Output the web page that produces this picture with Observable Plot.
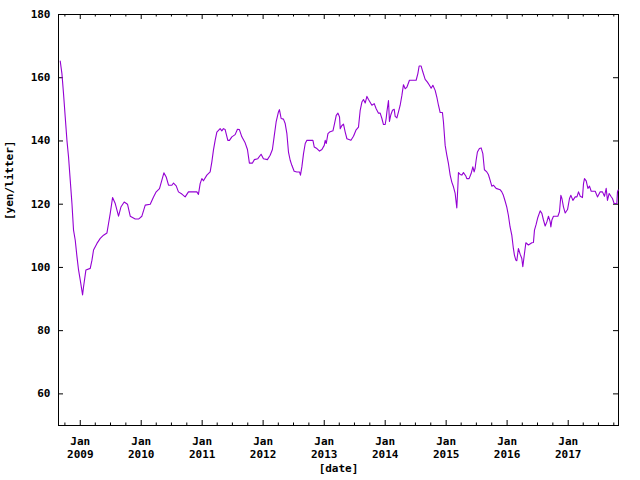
<!DOCTYPE html>
<html>
<head>
<meta charset="utf-8">
<script src="https://cdn.jsdelivr.net/npm/d3@7"></script>
<script src="https://cdn.jsdelivr.net/npm/@observablehq/plot@0.6"></script>
<style>
  html, body { margin: 0; padding: 0; background: #fff; }
</style>
</head>
<body>
<div id="chart"></div>
<script>
// decimal-year positions of the sampled points
const years = [
  2008.672, 2008.700, 2008.726, 2008.754, 2008.782, 2008.808, 2008.836, 2008.864, 2008.890, 2008.918,
  2008.946, 2008.972, 2009.000, 2009.038, 2009.054, 2009.093, 2009.164, 2009.192, 2009.218, 2009.274,
  2009.328, 2009.382, 2009.438, 2009.464, 2009.492, 2009.530, 2009.574, 2009.602, 2009.628, 2009.667,
  2009.721, 2009.775, 2009.820, 2009.902, 2009.956, 2010.011, 2010.066, 2010.148, 2010.202, 2010.246,
  2010.300, 2010.339, 2010.372, 2010.410, 2010.448, 2010.503, 2010.530, 2010.574, 2010.611, 2010.667,
  2010.721, 2010.775, 2010.913, 2010.939, 2010.967, 2010.995, 2011.021, 2011.077, 2011.131, 2011.159,
  2011.185, 2011.213, 2011.241, 2011.295, 2011.323, 2011.349, 2011.377, 2011.421, 2011.448, 2011.487,
  2011.541, 2011.579, 2011.611, 2011.651, 2011.705, 2011.743, 2011.775, 2011.825, 2011.857, 2011.913,
  2011.967, 2012.005, 2012.070, 2012.115, 2012.152, 2012.180, 2012.213, 2012.251, 2012.267, 2012.295,
  2012.333, 2012.361, 2012.389, 2012.415, 2012.443, 2012.470, 2012.508, 2012.552, 2012.595, 2012.611,
  2012.634, 2012.661, 2012.689, 2012.716, 2012.815, 2012.836, 2012.880, 2012.923, 2012.962, 2013.000,
  2013.016, 2013.033, 2013.061, 2013.087, 2013.143, 2013.169, 2013.197, 2013.225, 2013.251, 2013.262,
  2013.290, 2013.316, 2013.344, 2013.372, 2013.438, 2013.480, 2013.520, 2013.562, 2013.590, 2013.618,
  2013.644, 2013.672, 2013.700, 2013.726, 2013.782, 2013.820, 2013.852, 2013.890, 2013.918, 2013.946,
  2013.972, 2014.000, 2014.016, 2014.028, 2014.054, 2014.070, 2014.093, 2014.120, 2014.148, 2014.164,
  2014.192, 2014.218, 2014.246, 2014.274, 2014.300, 2014.328, 2014.356, 2014.398, 2014.508, 2014.536,
  2014.557, 2014.590, 2014.618, 2014.656, 2014.693, 2014.726, 2014.754, 2014.782, 2014.820, 2014.847,
  2014.874, 2014.902, 2014.939, 2014.956, 2014.984, 2015.011, 2015.038, 2015.066, 2015.093, 2015.120,
  2015.148, 2015.175, 2015.192, 2015.202, 2015.230, 2015.257, 2015.284, 2015.323, 2015.339, 2015.377,
  2015.410, 2015.438, 2015.459, 2015.475, 2015.492, 2015.513, 2015.546, 2015.574, 2015.602, 2015.628,
  2015.667, 2015.693, 2015.721, 2015.749, 2015.775, 2015.820, 2015.885, 2015.913, 2015.939, 2015.967,
  2015.995, 2016.021, 2016.049, 2016.077, 2016.103, 2016.120, 2016.143, 2016.159, 2016.185, 2016.213,
  2016.241, 2016.257, 2016.279, 2016.307, 2016.349, 2016.405, 2016.431, 2016.448, 2016.475, 2016.503,
  2016.541, 2016.569, 2016.595, 2016.623, 2016.651, 2016.677, 2016.705, 2016.716, 2016.733, 2016.759,
  2016.831, 2016.857, 2016.880, 2016.897, 2016.923, 2016.951, 2016.989, 2017.021, 2017.044, 2017.077,
  2017.115, 2017.143, 2017.169, 2017.197, 2017.234, 2017.251, 2017.267, 2017.295, 2017.323, 2017.349,
  2017.377, 2017.443, 2017.480, 2017.525, 2017.562, 2017.595, 2017.623, 2017.644, 2017.672, 2017.700,
  2017.726, 2017.754, 2017.798, 2017.808, 2017.820
];
// price, yen per litre
const prices = [
  165.3, 161.3, 155.0, 147.6, 140.2, 135.0, 127.6, 120.2, 111.8, 108.6,
  103.4, 99.2, 96.0, 91.3, 93.9, 99.2, 99.7, 102.3, 105.5, 107.6,
  109.2, 110.2, 110.9, 113.9, 117.1, 122.1, 120.2, 118.1, 116.2, 119.1,
  120.7, 120.0, 116.2, 115.3, 115.3, 116.2, 119.7, 120.0, 122.3, 123.9,
  124.9, 127.6, 129.9, 128.6, 126.0, 126.0, 126.7, 125.8, 123.9, 123.2,
  122.3, 123.9, 123.9, 123.1, 126.5, 128.1, 127.4, 129.2, 130.2, 133.4,
  137.1, 140.2, 142.8, 143.9, 143.2, 143.9, 143.6, 140.2, 140.2, 141.3,
  142.0, 143.7, 143.6, 141.3, 139.4, 137.3, 133.0, 133.0, 134.1, 134.4,
  135.8, 134.4, 134.1, 135.5, 137.3, 141.3, 146.0, 149.2, 149.9, 147.1,
  146.9, 145.5, 142.3, 136.5, 133.9, 132.3, 130.4, 130.2, 130.2, 129.2,
  131.8, 136.0, 139.2, 140.2, 140.2, 138.1, 137.6, 136.8, 137.3, 138.6,
  140.2, 139.2, 142.3, 142.8, 143.2, 145.5, 148.1, 148.8, 147.6, 143.9,
  144.9, 145.3, 142.8, 140.7, 140.2, 141.5, 143.4, 144.4, 149.7, 152.3,
  153.1, 152.0, 154.1, 153.1, 151.3, 151.8, 150.2, 148.8, 148.8, 147.1,
  145.2, 145.2, 147.1, 149.2, 152.8, 146.2, 148.3, 149.7, 150.0, 147.8,
  147.3, 149.2, 151.3, 154.4, 157.8, 156.5, 157.0, 159.2, 159.2, 161.3,
  163.7, 163.7, 161.8, 159.5, 158.6, 157.6, 156.7, 157.6, 156.0, 153.9,
  151.3, 149.0, 149.0, 146.0, 138.6, 135.5, 132.8, 129.2, 127.0, 125.5,
  123.4, 118.8, 125.5, 130.0, 129.4, 129.2, 130.0, 128.9, 128.1, 128.1,
  129.7, 131.8, 130.2, 131.3, 133.9, 136.5, 137.6, 137.8, 136.0, 130.9,
  130.2, 129.4, 127.6, 125.7, 126.0, 125.0, 124.6, 123.9, 122.8, 121.0,
  119.1, 116.5, 112.8, 110.2, 106.0, 103.9, 102.3, 102.1, 106.0, 104.2,
  102.8, 100.2, 103.6, 107.8, 107.1, 107.8, 107.9, 111.8, 113.6, 115.8,
  117.9, 117.1, 115.0, 113.1, 114.4, 116.2, 114.4, 112.8, 115.0, 116.2,
  116.2, 117.6, 122.8, 121.8, 119.1, 117.2, 118.3, 121.8, 122.8, 121.2,
  122.3, 122.3, 123.9, 122.5, 122.1, 126.5, 128.1, 127.4, 125.0, 125.7,
  124.1, 124.1, 122.3, 123.9, 123.9, 122.5, 125.0, 121.2, 123.4, 122.5,
  121.8, 120.2, 120.2, 123.9, 124.5
];
const yTicks = [60, 80, 100, 120, 140, 160, 180];
const xRange = [2008.644, 2017.825];   // visible span, decimal years
const yRange = [50, 180];

function toDate(v) {
  const y = Math.floor(v);
  const a = Date.UTC(y, 0, 1), b = Date.UTC(y + 1, 0, 1);
  return new Date(a + (v - y) * (b - a));
}
const data = years.map((v, i) => ({date: toDate(v), price: prices[i]}));
const d0 = toDate(xRange[0]), d1 = toDate(xRange[1]);
const majorX = d3.utcYear.range(d0, d1);
const minorX = d3.utcMonth.every(3).range(d0, d1).filter(d => d.getUTCMonth() !== 0);

const W = 640, H = 480, mT = 14, mB = 55, mL = 58, mR = 22;
const frameH = H - mT - mB, frameW = W - mL - mR;

const chart = Plot.plot({
  width: W, height: H,
  marginTop: mT, marginBottom: mB, marginLeft: mL, marginRight: mR,
  style: {fontFamily: "'DejaVu Sans Mono', monospace", fontWeight: "bold", fontSize: "11px", background: "#fff", color: "#000"},
  x: {type: "utc", domain: [d0, d1]},
  y: {domain: yRange},
  marks: [
    Plot.frame({stroke: "#000", strokeWidth: 1}),
    // major / minor x ticks, bottom and mirrored top (pointing inward)
    Plot.ruleX(majorX, {stroke: "#000", insetTop: frameH - 5}),
    Plot.ruleX(majorX, {stroke: "#000", insetBottom: frameH - 5}),
    Plot.ruleX(minorX, {stroke: "#000", insetTop: frameH - 2.5}),
    Plot.ruleX(minorX, {stroke: "#000", insetBottom: frameH - 2.5}),
    // y ticks, left and mirrored right
    Plot.ruleY(yTicks, {stroke: "#000", insetRight: frameW - 5}),
    Plot.ruleY(yTicks, {stroke: "#000", insetLeft: frameW - 5}),
    Plot.axisX({ticks: majorX, tickSize: 0, tickPadding: 10, lineHeight: 1.2,
      tickFormat: d => `Jan\n${d.getUTCFullYear()}`, label: null, fontWeight: "bold"}),
    Plot.axisY({ticks: yTicks, tickSize: 0, tickPadding: 8, label: null, fontWeight: "bold"}),
    Plot.line(data, {x: "date", y: "price", stroke: "#9400d3", strokeWidth: 1.1, curve: "linear"}),
    Plot.text(["[date]"], {frameAnchor: "bottom", dy: 46, fontWeight: "bold"}),
    Plot.text(["[yen/litter]"], {frameAnchor: "left", dx: -49, rotate: -90, fontWeight: "bold"})
  ]
});
document.getElementById("chart").appendChild(chart);
</script>
</body>
</html>
